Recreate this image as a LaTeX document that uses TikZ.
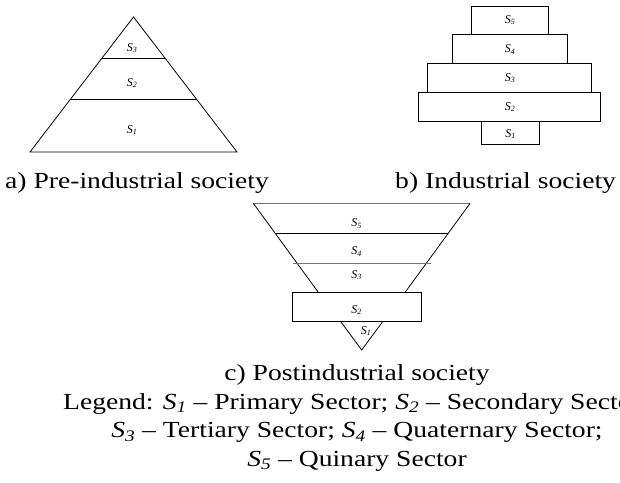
\documentclass[tikz,border=0pt]{standalone}
\usepackage{fontspec}
\setmainfont{Liberation Serif}
\newfontfamily\widefont[FakeStretch=1.2,Ligatures=TeX]{Liberation Serif}
\newcommand{\sect}[1]{\textit{S}\textsubscript{\textit{#1}}}
\begin{document}
\begin{tikzpicture}[x=1pt,y=-1pt,
  edge/.style={line width=0.8pt,line join=miter},
  faint/.style={line width=0.8pt,draw=black!55},
  lbl/.style={inner sep=0pt,font=\fontsize{12}{14}\selectfont},
  captext/.style={inner sep=0pt,font=\widefont\fontsize{23}{28}\selectfont}]
\useasboundingbox (0,0) rectangle (620,482);
\clip (0,0) rectangle (620,482);

% (a) pre-industrial pyramid
\coordinate (aTop) at (133.5,17);
\coordinate (aL) at (30,152);
\coordinate (aR) at (237,152);
\draw[edge] (aL) -- (aTop) -- (aR) -- cycle;
\coordinate (a3L) at (101.8,58.3);
\coordinate (a3R) at (165.2,58.3);
\coordinate (a2L) at (70.4,99.3);
\coordinate (a2R) at (196.6,99.3);
\draw[edge] (a3L) -- (a3R);
\draw[edge] (a2L) -- (a2R);
\node[lbl] (aS3) at (132,48) {\sect{3}};
\node[lbl] (aS2) at (132,83) {\sect{2}};
\node[lbl] (aS1) at (132,130) {\sect{1}};

% (b) industrial stack of boxes
\draw[edge] (471.7,6) rectangle (548.3,34.3);
\draw[edge] (452.3,34.3) rectangle (567.3,63.3);
\draw[edge] (427.3,63.3) rectangle (591.7,92.3);
\draw[edge] (418.3,92.3) rectangle (600.7,121);
\draw[edge] (481.7,121) rectangle (539.3,144.3);
\node[lbl] (bS5) at (510,20) {\sect{5}};
\node[lbl] (bS4) at (510,49.5) {\sect{4}};
\node[lbl] (bS3) at (510,78) {\sect{3}};
\node[lbl] (bS2) at (510,107) {\sect{2}};
\node[lbl] (bS1) at (510.5,134) {\sect{1}};

% (c) postindustrial inverted pyramid
\coordinate (cTL) at (253.3,203.3);
\coordinate (cTR) at (470.1,203.3);
\coordinate (cBot) at (361.7,350);
\coordinate (cML) at (318.3,292.3);
\coordinate (cMR) at (405.1,292.3);
\coordinate (cLL) at (340.8,321.7);
\coordinate (cLR) at (382.6,321.7);
\draw[faint] (cTL) -- (cTR);
\draw[edge] (cTL) -- (cML);
\draw[edge] (cTR) -- (cMR);
\draw[edge] (275.5,233.3) -- (448,233.3);
\draw[faint] (292.7,263.3) -- (430.7,263.3);
\draw[edge] (292.3,292.3) rectangle (421,321.7);
\node[lbl,fill=white,minimum height=16pt,minimum width=20pt] (cS1bg) at (362,329.5) {};
\node[lbl] (cS1) at (366,331) {\sect{1}};
\draw[edge] (cLL) -- (cBot) -- (cLR);
\node[lbl] (cS5) at (356.7,223.3) {\sect{5}};
\node[lbl] (cS4) at (356.7,251.7) {\sect{4}};
\node[lbl] (cS3) at (356.7,275) {\sect{3}};
\node[lbl] (cS2) at (356.7,310) {\sect{2}};

% captions and legend
\node[captext,anchor=base west] (capA) at (5,188) {a) Pre-industrial society};
\node[captext,anchor=base west] (capB) at (395,188) {b) Industrial society};
\node[captext,anchor=base] (capC) at (357,380.5) {c) Postindustrial society};
\node[captext,anchor=base west] (leg1) at (63,409) {Legend: \sect{1} -- Primary Sector; \sect{2} -- Secondary Sector;};
\node[captext,anchor=base] (leg2) at (357,437.5) {\sect{3} -- Tertiary Sector; \sect{4} -- Quaternary Sector;};
\node[captext,anchor=base] (leg3) at (357,466) {\sect{5} -- Quinary Sector};
\end{tikzpicture}
\end{document}
